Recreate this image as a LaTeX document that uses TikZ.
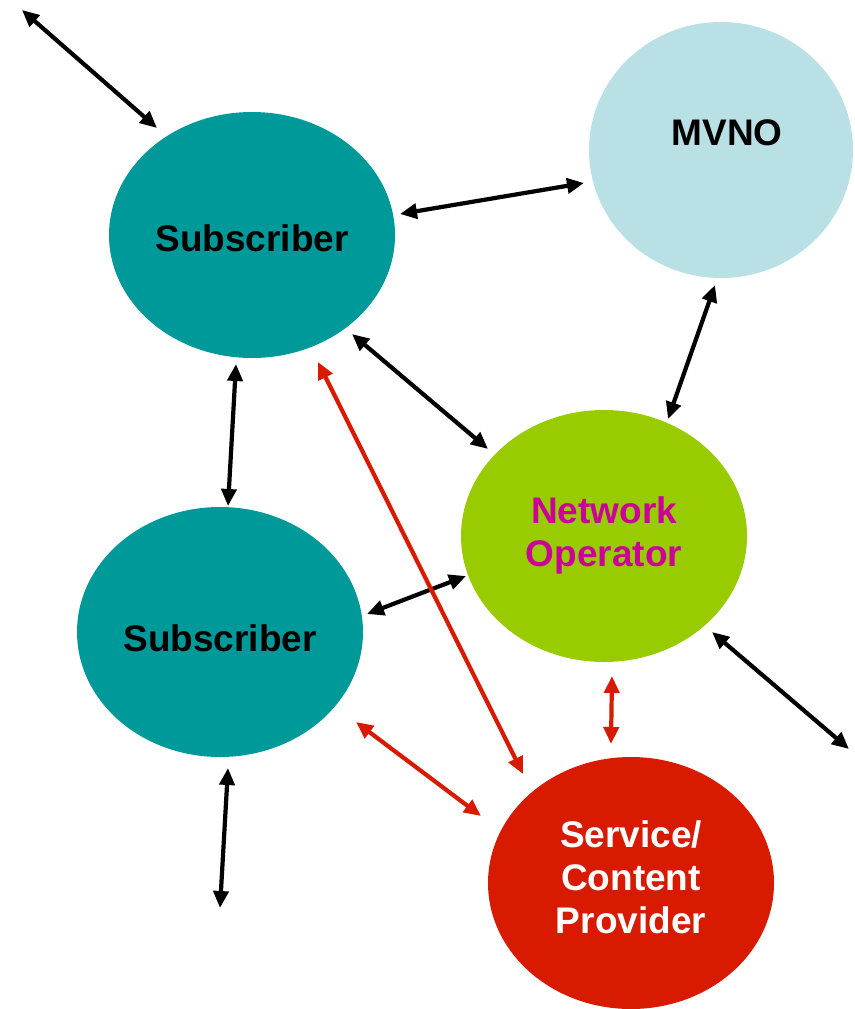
\documentclass[tikz,border=0pt]{standalone}
\usepackage{fontspec}
\setmainfont{Liberation Sans}
\usetikzlibrary{shapes.geometric,arrows.meta}
\definecolor{teal1}{HTML}{009999}
\definecolor{mvnoblue}{HTML}{B9E0E4}
\definecolor{opgreen}{HTML}{99CC00}
\definecolor{opmag}{HTML}{CC0099}
\definecolor{provred}{HTML}{D71A00}
\definecolor{arrred}{HTML}{D71A00}
\tikzset{
  blob/.style={ellipse, inner sep=0pt},
  lbl/.style={font=\fontsize{37}{43}\selectfont\bfseries, align=center, inner sep=0pt},
  link/.style={line width=4.2pt, {Triangle[length=17pt,width=15pt]}-{Triangle[length=17pt,width=15pt]}},
  blk/.style={link, black},
  rd/.style={link, arrred},
}
\begin{document}
\begin{tikzpicture}[x=1pt,y=-1pt]
\useasboundingbox (0,0) rectangle (854,1009);
% ellipses
\node[blob, fill=teal1, minimum width=286pt, minimum height=246pt] (sub1) at (252,235) {};
\node[blob, fill=mvnoblue, minimum width=264pt, minimum height=256pt] (mvno) at (721,150) {};
\node[blob, fill=opgreen, minimum width=286pt, minimum height=252pt] (netop) at (604,536) {};
\node[blob, fill=teal1, minimum width=286pt, minimum height=250pt] (sub2) at (220,632) {};
\node[blob, fill=provred, minimum width=286pt, minimum height=252pt] (prov) at (631,883) {};
% labels
\node[lbl, black] (tsub1) at (252,238) {Subscriber};
\node[lbl, black] (tmvno) at (727,133) {MVNO};
\node[lbl, opmag] (tnetop) at (604,535) {Network\\Operator};
\node[lbl, black] (tsub2) at (220,638) {Subscriber};
\node[lbl, white] (tprov) at (631,877) {Service/\\Content\\Provider};
% connector end points
\coordinate (a1) at (22,10);   \coordinate (a2) at (157,128);
\coordinate (b1) at (400,214); \coordinate (b2) at (584,183);
\coordinate (c1) at (352,334); \coordinate (c2) at (488,449);
\coordinate (d1) at (715,285); \coordinate (d2) at (668,419);
\coordinate (e1) at (236,364); \coordinate (e2) at (228,506);
\coordinate (f1) at (367,614); \coordinate (f2) at (466,576);
\coordinate (g1) at (712,632); \coordinate (g2) at (849,749);
\coordinate (h1) at (228,768); \coordinate (h2) at (220,908);
\coordinate (r1) at (318,362); \coordinate (r2) at (523,774);
\coordinate (s1) at (356,722); \coordinate (s2) at (481,816);
\coordinate (t1) at (612,676); \coordinate (t2) at (611,744);
% connectors
\draw[blk] (a1) -- (a2);
\draw[blk] (b1) -- (b2);
\draw[blk] (c1) -- (c2);
\draw[blk] (d1) -- (d2);
\draw[blk] (e1) -- (e2);
\draw[blk] (f1) -- (f2);
\draw[blk] (g1) -- (g2);
\draw[blk] (h1) -- (h2);
\draw[rd] (r1) -- (r2);
\draw[rd] (s1) -- (s2);
\draw[rd] (t1) -- (t2);
\end{tikzpicture}
\end{document}
